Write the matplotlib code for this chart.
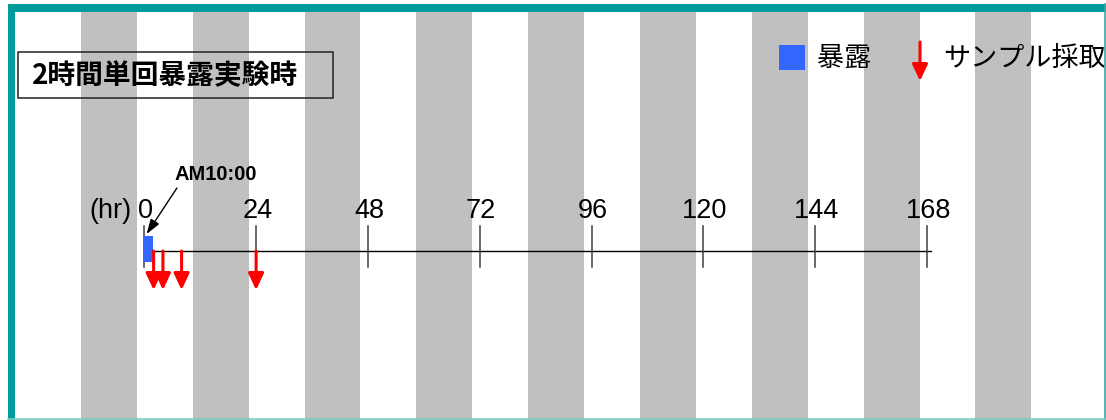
import matplotlib.pyplot as plt
from matplotlib.patches import Rectangle

# timeline data (hours after exposure start, AM10:00)
ticks = [0, 24, 48, 72, 96, 120, 144, 168]
exposure = [0, 2]
sampling = [2, 4, 8, 24]
night_start = [-13.6, 10.4, 34.4, 58.4, 82.4, 106.4, 130.4, 154.4, 178.4]
night_len = 12

title = '2時間単回暴露実験時'
start_label = 'AM10:00'
legend_labels = ['暴露', 'サンプル採取']

jp = ['Noto Sans CJK JP', 'DejaVu Sans']
num = ['Liberation Sans', 'DejaVu Sans']

W, H = 1106, 420
fig = plt.figure(figsize=(W / 100, H / 100), dpi=100)

# data axes: x in hours
ax = fig.add_axes([0, 0, 1, 1])
px_hr = 4.659
x0 = 144.3
ax.set_xlim(-x0 / px_hr, (W - x0) / px_hr)
ax.set_ylim(H, 0)
ax.axis('off')

# layout axes: pixels
lay = fig.add_axes([0, 0, 1, 1])
lay.set_xlim(0, W)
lay.set_ylim(H, 0)
lay.axis('off')
lay.patch.set_alpha(0)

for s in night_start:
    ax.axvspan(s, s + night_len, ymin=0, ymax=(H - 11) / H, color='#c0c0c0', lw=0, zorder=0)

# timeline
ax.plot([ticks[0], ticks[-1] + 0.8], [251, 251], color='black', lw=1, zorder=2)
for t in ticks:
    ax.plot([t, t], [226, 267], color='#404040', lw=1.1, zorder=2)
    ax.text(t + 0.3, 218, str(t), family=num, fontsize=19.5, ha='center', va='baseline', zorder=3)
ax.text(-2.8, 218, '(hr)', family=num, fontsize=19.5, ha='right', va='baseline', zorder=3)

ax.add_patch(Rectangle((exposure[0] - 0.2, 236), exposure[1] - exposure[0], 26,
                       facecolor='#3366ff', edgecolor='none', zorder=4))

for h in sampling:
    ax.annotate('', xy=(h, 290), xytext=(h, 251),
                arrowprops=dict(arrowstyle='-|>,head_length=1.0,head_width=0.47', mutation_scale=10,
                                lw=2.2, color='red', shrinkA=0, shrinkB=0), zorder=5)

# start time label and pointer
ax.text(6.5, 179.5, start_label, family=num, fontsize=14.5, fontweight='bold',
        ha='left', va='baseline', zorder=5)
ax.annotate('', xy=(0.5, 234), xytext=(7, 188),
            arrowprops=dict(arrowstyle='-|>,head_length=0.9,head_width=0.3', mutation_scale=10,
                            lw=1, color='black', shrinkA=0, shrinkB=0), zorder=5)

# title box
lay.add_patch(Rectangle((18, 52), 315, 46, fill=False, edgecolor='#222222', lw=1.1, zorder=3))
lay.text(32, 76, title, family=jp, fontsize=20, fontweight='bold', ha='left', va='center', zorder=3)

# legend
lay.add_patch(Rectangle((779, 45), 26, 25, facecolor='#3366ff', edgecolor='none', zorder=3))
lay.text(817, 59, legend_labels[0], family=jp, fontsize=19.5, ha='left', va='center', zorder=3)
lay.annotate('', xy=(920, 81), xytext=(920, 42),
             arrowprops=dict(arrowstyle='-|>,head_length=1.0,head_width=0.47', mutation_scale=10,
                             lw=2.2, color='red', shrinkA=0, shrinkB=0), zorder=3)
lay.text(943, 59, legend_labels[1], family=jp, fontsize=19.5, ha='left', va='center', zorder=3)

# frame
lay.add_patch(Rectangle((7.5, 4), W - 7.5, 7.5, facecolor='#009b9b', edgecolor='none', zorder=6))
lay.add_patch(Rectangle((7.5, 4), 7.5, H - 4, facecolor='#009b9b', edgecolor='none', zorder=6))
lay.plot([1104.5, 1104.5], [4, H], color='#3aa8a3', lw=1.2, zorder=6)
lay.plot([7.5, W], [419.3, 419.3], color='#7fc9c2', lw=1.2, zorder=6)

fig.savefig('out.png', dpi=100)
